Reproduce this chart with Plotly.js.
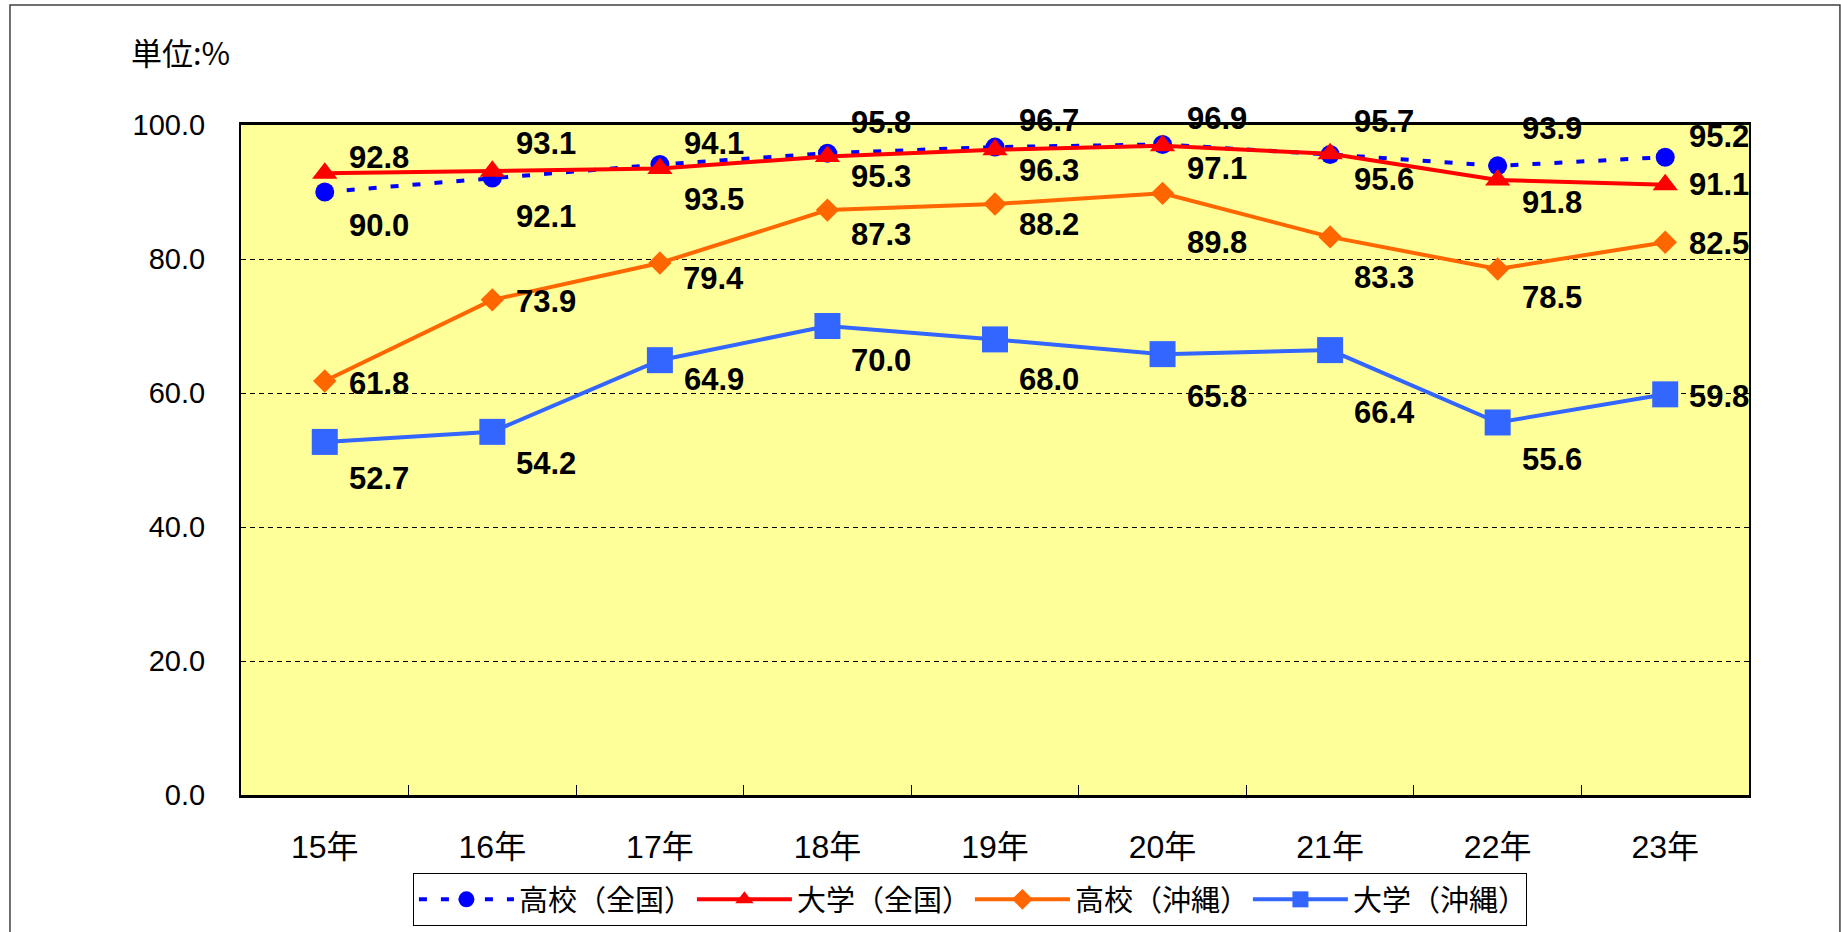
<!DOCTYPE html>
<html><head><meta charset="utf-8">
<script src="https://cdn.plot.ly/plotly-3.0.1.min.js"></script>
<style>html,body{margin:0;padding:0;background:#fff;overflow:hidden}#chart{width:1841px;height:932px}</style>
</head><body><div id="chart"></div>
<script>
// ---- data ----
const categories = ['15年','16年','17年','18年','19年','20年','21年','22年','23年'];
const highNational = [90.0, 92.1, 94.1, 95.8, 96.7, 97.1, 95.6, 93.9, 95.2];
const univNational = [92.8, 93.1, 93.5, 95.3, 96.3, 96.9, 95.7, 91.8, 91.1];
const highOkinawa  = [61.8, 73.9, 79.4, 87.3, 88.2, 89.8, 83.3, 78.5, 82.5];
const univOkinawa  = [52.7, 54.2, 64.9, 70.0, 68.0, 65.8, 66.4, 55.6, 59.8];
const seriesNames  = ['高校（全国）','大学（全国）','高校（沖縄）','大学（沖縄）'];
const yTickValues  = [0, 20, 40, 60, 80, 100];
const unitLabel    = '単位:%';

// ---- label placement (pixel offsets below marker, style only) ----
const dyHighNational = [33, 39, -21, -31, -27, 24, 25, -37, -21];
const dyUnivNational = [-16, -28, 31, 20, 21, -27, -32, 23, 0];
const dyHighOkinawa  = [3, 2, 15, 24, 20, 49, 41, 28, 1];
const dyUnivOkinawa  = [37, 32, 19, 34, 40, 42, 62, 37, 2];

const series = [
  {name: seriesNames[0], y: highNational, color: '#0000FF', dash: '8px,14px', symbol: 'circle', size: 19, dy: dyHighNational},
  {name: seriesNames[1], y: univNational, color: '#FF0000', dash: 'solid', symbol: 'triangle-up', size: 22, dy: dyUnivNational},
  {name: seriesNames[2], y: highOkinawa, color: '#FF6600', dash: 'solid', symbol: 'diamond', size: 18, dy: dyHighOkinawa},
  {name: seriesNames[3], y: univOkinawa, color: '#3366FF', dash: 'solid', symbol: 'square', size: 26, dy: dyUnivOkinawa}
];

const traces = series.map(s => ({
  type: 'scatter', mode: 'lines+markers', name: s.name,
  x: categories, y: s.y,
  line: {color: s.color, width: 4, dash: s.dash},
  marker: {color: s.color, symbol: s.symbol, size: s.size, line: {width: 0}},
  hoverinfo: 'x+y+name'
}));

const annotations = [];
series.forEach(s => {
  s.y.forEach((v, i) => {
    annotations.push({
      x: categories[i], y: v, xref: 'x', yref: 'y',
      text: v.toFixed(1), showarrow: false,
      xshift: 54, yshift: -s.dy[i],
      font: {family: 'Liberation Sans, Arial, sans-serif', size: 31, color: '#000', weight: 'bold'}
    });
  });
});
annotations.push({
  xref: 'paper', yref: 'paper', x: -0.0745, y: 1.109, xanchor: 'left', yanchor: 'middle',
  text: unitLabel, showarrow: false,
  font: {family: 'Noto Sans CJK JP, sans-serif', size: 31, color: '#000'}
});

const layout = {
  width: 1841, height: 932,
  margin: {l: 241, r: 92, t: 125, b: 137, pad: 0, autoexpand: false},
  paper_bgcolor: '#FFFFFF',
  plot_bgcolor: '#FFFF99',
  showlegend: true,
  xaxis: {
    type: 'category', range: [-0.5, 8.5],
    showline: true, linecolor: '#000', linewidth: 2.5, mirror: true,
    ticks: 'inside', tickson: 'boundaries', ticklen: 10, tickwidth: 1, tickcolor: '#000',
    showgrid: false, zeroline: false, automargin: false,
    ticklabelstandoff: 22,
    tickfont: {family: 'Liberation Sans, Noto Sans CJK JP, sans-serif', size: 32, color: '#000'}
  },
  yaxis: {
    range: [0, 100], tickvals: yTickValues, tickformat: '.1f',
    showline: true, linecolor: '#000', linewidth: 2, mirror: true,
    ticks: '', showgrid: true, gridcolor: '#000', gridwidth: 1, griddash: '5px,4px',
    zeroline: false, automargin: false,
    ticklabelstandoff: 28,
    tickfont: {family: 'Liberation Sans, Arial, sans-serif', size: 29, color: '#000'}
  },
  legend: {
    orientation: 'h', x: 0.114, xanchor: 'left', y: -0.1164, yanchor: 'top',
    bgcolor: '#FFFFFF', bordercolor: '#000', borderwidth: 1,
    font: {family: 'Noto Sans CJK JP, sans-serif', size: 29, color: '#000'},
    itemwidth: 95, entrywidth: 168, traceorder: 'normal'
  },
  annotations: annotations,
  shapes: [{
    type: 'rect', xref: 'paper', yref: 'paper',
    x0: -0.1532, x1: 1.0603, y0: -0.5, y1: 1.1791,
    line: {color: '#404040', width: 1.5}, fillcolor: 'rgba(0,0,0,0)', layer: 'above'
  }]
};

Plotly.newPlot('chart', traces, layout, {displayModeBar: false});
</script>
</body></html>
